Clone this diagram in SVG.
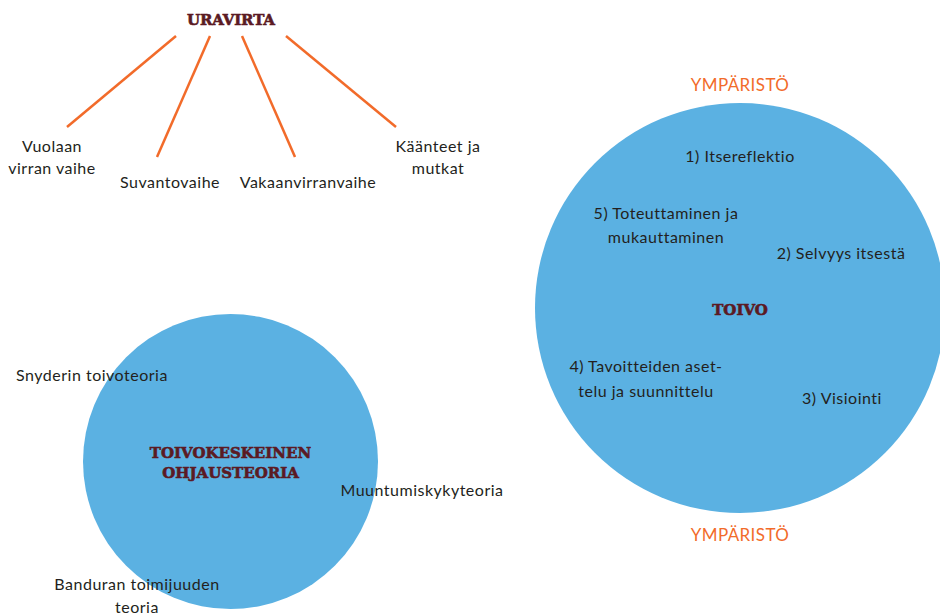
<svg xmlns="http://www.w3.org/2000/svg" width="940" height="615" viewBox="0 0 940 615">
<style>
.t{font-family:"Lato","Open Sans","Liberation Sans",sans-serif;font-size:16px;letter-spacing:0.5px;fill:#231f20}
.h{font-family:"DejaVu Serif","Liberation Serif",serif;font-weight:bold;font-size:15px;fill:#5b1a23;stroke:#5b1a23;stroke-width:0.6px}
.o{font-family:"Lato","Open Sans","Liberation Sans",sans-serif;font-size:17px;letter-spacing:0.4px;fill:#f26b2a}
.c{fill:#5bb1e2}
.l{stroke:#f26b2a;stroke-width:2.5;fill:none}
</style>
<rect width="940" height="615" fill="#fff"/>
<g id="connectors">
<line class="l" x1="176" y1="36" x2="67" y2="127"/>
<line class="l" x1="210" y1="36" x2="157" y2="157"/>
<line class="l" x1="242" y1="36" x2="295" y2="157"/>
<line class="l" x1="286" y1="36" x2="396" y2="127"/>
</g>
<g id="uravirta"><text class="h" x="231" y="25" text-anchor="middle" textLength="88">URAVIRTA</text></g>
<g id="vuolaan"><text class="t" x="52" y="152" text-anchor="middle">Vuolaan</text><text class="t" x="52" y="174" text-anchor="middle">virran vaihe</text></g>
<g id="suvanto"><text class="t" x="170" y="188" text-anchor="middle">Suvantovaihe</text></g>
<g id="vakaan"><text class="t" x="308" y="188" text-anchor="middle">Vakaanvirranvaihe</text></g>
<g id="kaanteet"><text class="t" x="438" y="152" text-anchor="middle">Käänteet ja</text><text class="t" x="438" y="174" text-anchor="middle">mutkat</text></g>

<g id="toivo">
<circle class="c" cx="740" cy="308" r="205"/>
<text class="h" x="740" y="315" text-anchor="middle">TOIVO</text>
</g>
<g id="ymp-top"><text class="o" x="740" y="91" text-anchor="middle">YMPÄRISTÖ</text></g>
<g id="ymp-bottom"><text class="o" x="740" y="541" text-anchor="middle">YMPÄRISTÖ</text></g>
<g id="s1"><text class="t" x="740" y="162" text-anchor="middle">1) Itsereflektio</text></g>
<g id="s2"><text class="t" x="841" y="259" text-anchor="middle">2) Selvyys itsestä</text></g>
<g id="s3"><text class="t" x="842" y="404" text-anchor="middle">3) Visiointi</text></g>
<g id="s4"><text class="t" x="646" y="372" text-anchor="middle">4) Tavoitteiden aset-</text><text class="t" x="646" y="397" text-anchor="middle">telu ja suunnittelu</text></g>
<g id="s5"><text class="t" x="666" y="219" text-anchor="middle">5) Toteuttaminen ja</text><text class="t" x="666" y="243" text-anchor="middle">mukauttaminen</text></g>

<g id="ohjaus">
<circle class="c" cx="230.5" cy="461.5" r="147.5"/>
<text class="h" x="230.5" y="458" text-anchor="middle">TOIVOKESKEINEN</text>
<text class="h" x="230.5" y="478" text-anchor="middle">OHJAUSTEORIA</text>
</g>
<g id="snyder"><text class="t" x="92" y="381" text-anchor="middle">Snyderin toivoteoria</text></g>
<g id="muuntumis"><text class="t" x="422" y="496" text-anchor="middle">Muuntumiskykyteoria</text></g>
<g id="bandura"><text class="t" x="137" y="590" text-anchor="middle">Banduran toimijuuden</text><text class="t" x="137" y="613" text-anchor="middle">teoria</text></g>
</svg>
